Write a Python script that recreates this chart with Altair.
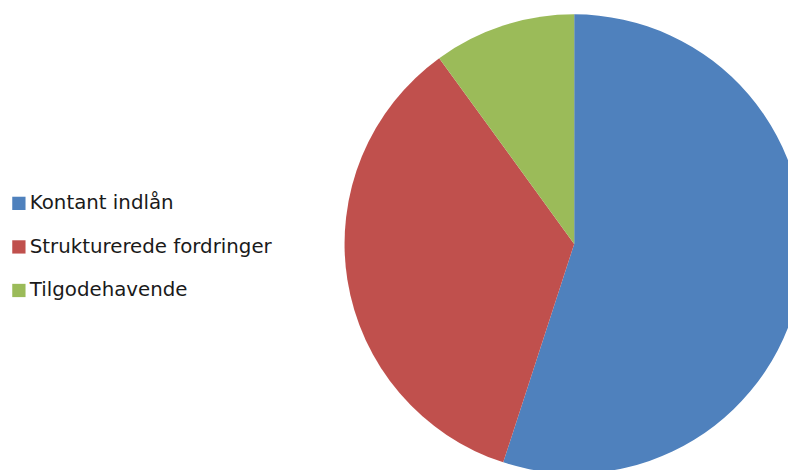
import altair as alt
import pandas as pd

categories = ["Kontant indlån", "Strukturerede fordringer", "Tilgodehavende"]
values = [55, 35, 10]
colors = ["#4F81BD", "#C0504D", "#9BBB59"]

df = pd.DataFrame({"cat": categories, "val": values, "ord": list(range(len(values)))})

chart = alt.Chart(df).mark_arc(stroke=None).encode(
    theta=alt.Theta("val:Q", stack=True),
    order=alt.Order("ord:Q"),
    color=alt.Color(
        "cat:N",
        scale=alt.Scale(domain=categories, range=colors),
        sort=categories,
        legend=alt.Legend(
            title=None,
            orient="none",
            legendX=1,
            legendY=185,
            symbolType="square",
            symbolSize=180,
            symbolStrokeWidth=0,
            labelFont="DejaVu Sans",
            labelFontSize=20,
            labelColor="#1a1a1a",
            labelOffset=1,
            rowPadding=24,
            padding=0,
            labelLimit=400,
        ),
    ),
    x=alt.value(572),
    y=alt.value(236),
    radius=alt.value(232),
).properties(
    width=788,
    height=462,
    autosize=alt.AutoSizeParams(type="none"),
    padding=0,
    background="white",
).configure_view(stroke=None)

chart.save("out.html", embed_options={"renderer": "svg", "actions": False})
